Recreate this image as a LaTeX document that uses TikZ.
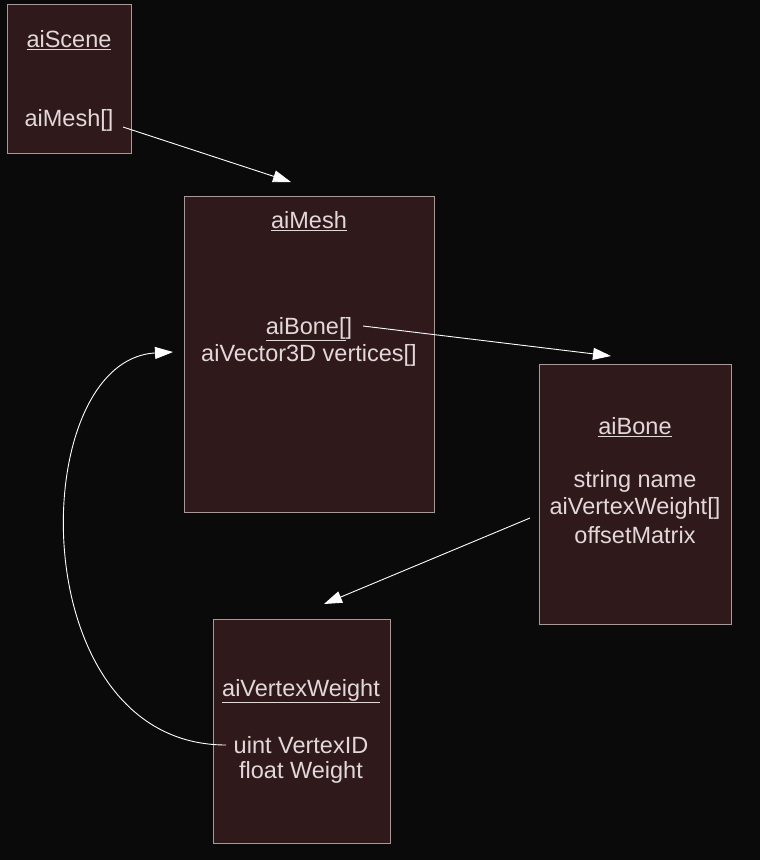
\documentclass[tikz,border=0pt]{standalone}
\usepackage{fontspec}
\setmainfont{Liberation Sans}
\usetikzlibrary{arrows.meta}
\definecolor{bg}{HTML}{0A0A0A}
\definecolor{boxfill}{HTML}{2F191B}
\definecolor{boxline}{HTML}{A89898}
\definecolor{txt}{HTML}{E2D8D8}
\tikzset{
  box/.style={draw=boxline, fill=boxfill, line width=0.8pt},
  lbl/.style={text=txt, font=\fontsize{23.5}{28}\selectfont, inner sep=0pt, anchor=center},
  conn/.style={draw=white, line width=0.9pt, -{Triangle[length=18pt,width=12pt,fill=white]}}
}
\newcommand{\ul}[1]{\underline{#1}}
\begin{document}
\begin{tikzpicture}[x=1pt,y=-1pt]
\fill[bg] (0,0) rectangle (760,860);
\useasboundingbox (0,0) rectangle (760,860);
% boxes
\path[box] (7,4) rectangle (131,153);
\path[box] (184,196) rectangle (434,512);
\path[box] (539,364) rectangle (731,624);
\path[box] (213,619) rectangle (390,843);
% aiScene
\node[lbl] (sceneT) at (69,40) {\ul{aiScene}};
\node[lbl] (sceneM) at (69,120) {aiMesh[]};
% aiMesh
\node[lbl] (meshT) at (309,221) {\ul{aiMesh}};
\node[lbl] (meshB) at (309,329) {\ul{aiBone[}]};
\node[lbl] (meshV) at (309,355) {aiVector3D vertices[]};
% aiBone
\node[lbl] (boneT) at (635,427) {\ul{aiBone}};
\node[lbl] (boneN) at (635,481) {string name};
\node[lbl] (boneW) at (635,508) {aiVertexWeight[]};
\node[lbl] (boneO) at (635,535) {offsetMatrix};
% aiVertexWeight
\node[lbl] (vwT) at (301,691) {\ul{aiVertexWeight}};
\node[lbl] (vwI) at (301,745) {uint VertexID};
\node[lbl] (vwW) at (301,772) {float Weight};
% connector endpoints
\coordinate (a1s) at (123,127);
\coordinate (a1e) at (291,182);
\coordinate (a2s) at (363,326);
\coordinate (a2e) at (611,356);
\coordinate (a3s) at (530,518);
\coordinate (a3e) at (324,604);
\coordinate (a4s) at (226,745);
\coordinate (a4e) at (173,352);
\draw[conn] (a1s) -- (a1e);
\draw[conn] (a2s) -- (a2e);
\draw[conn] (a3s) -- (a3e);
\draw[conn] (a4s) .. controls (20,745) and (25,360) .. (a4e);
\end{tikzpicture}
\end{document}
